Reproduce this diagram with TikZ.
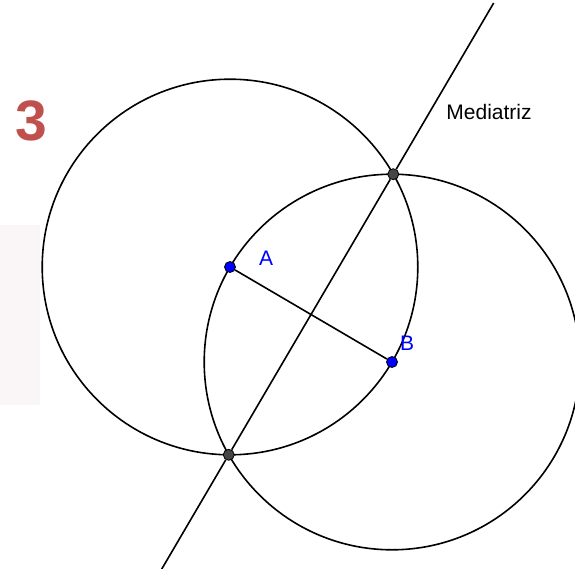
\documentclass[tikz,border=0pt]{standalone}
\usepackage{fontspec}
\setmainfont{Liberation Sans}
\usetikzlibrary{calc}
\definecolor{rojotres}{RGB}{192,80,77}
\definecolor{puntogris}{RGB}{70,70,70}
\definecolor{marcaagua}{RGB}{250,245,246}
\begin{document}
\begin{tikzpicture}[x=1pt,y=-1pt,
    punto/.style={circle, draw=black, line width=0.8pt, inner sep=0pt, minimum size=11pt},
    etiqueta/.style={font=\fontsize{21}{21}\selectfont}]
    \useasboundingbox (0,0) rectangle (575,569);

    % Faint watermark on the left edge
    \fill[marcaagua] (0,225) rectangle (40,405);

    % Centres A and B
    \coordinate (A) at (230,267);
    \coordinate (B) at (392,362);

    % Circles of radius AB
    \draw[line width=1.6pt] (A) circle[radius=187.8pt];
    \draw[line width=1.6pt] (B) circle[radius=187.8pt];

    % Intersection points and ends of the bisector
    \coordinate (C) at ($(A)!1!60:(B)$);
    \coordinate (D) at ($(A)!1!-60:(B)$);
    \coordinate (L1) at ($(D)!-0.41!(C)$);
    \coordinate (L2) at ($(D)!1.61!(C)$);

    % Points
    \node[punto, fill=blue] (pA) at (A) {};
    \node[punto, fill=blue] (pB) at (B) {};
    \node[punto, fill=puntogris] (pC) at (C) {};
    \node[punto, fill=puntogris] (pD) at (D) {};

    % Segment AB and the bisector
    \draw[line width=1.6pt] (pA) -- (pB);
    \draw[line width=1.6pt] (L1) -- (pD);
    \draw[line width=1.6pt] (pD) -- (pC);
    \draw[line width=1.6pt] (pC) -- (L2);

    % Labels
    \node[etiqueta, text=blue] (lA) at (266,258) {A};
    \node[etiqueta, text=blue] (lB) at (407,343) {B};
    \node[font=\fontsize{21}{21}\selectfont] (lM) at (489,112) {Mediatriz};
    \node[font=\fontsize{57}{57}\selectfont\bfseries, text=rojotres] (tres) at (31,121) {3};
\end{tikzpicture}
\end{document}
